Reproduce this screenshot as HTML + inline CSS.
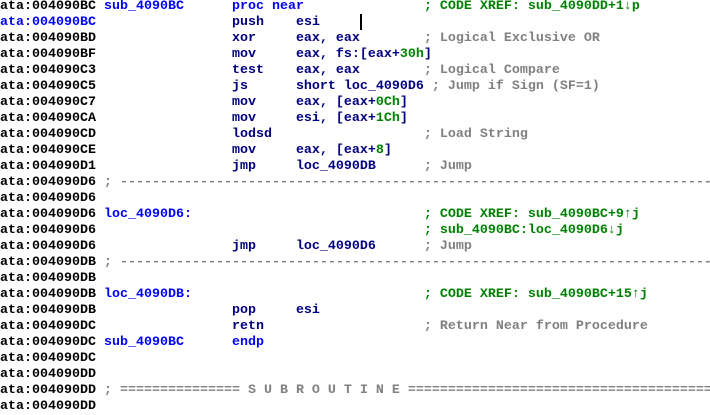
<!DOCTYPE html>
<html><head><meta charset="utf-8"><style>
html,body{margin:0;padding:0;background:#fff;width:710px;height:409px;overflow:hidden}
pre{margin:0;position:absolute;left:0;top:-1px;font-family:"Liberation Mono",monospace;font-weight:bold;font-size:13.33px;line-height:16px;color:#000;white-space:pre}
.n{color:#0000ff}.i{color:#000080}.c{color:#008000}.g{color:#808080}.d{color:#008000}
#cur{position:absolute;left:360px;top:14px;width:2px;height:16px;background:#000}
</style></head><body>
<pre>ata:004090BC <span class="n">sub_4090BC</span>      <span class="n">proc near</span>               <span class="c">; CODE XREF: sub_4090DD+1↓p</span>
<span class="n">ata:004090BC</span>                 <span class="i">push    esi</span>
ata:004090BD                 <span class="i">xor     eax, eax</span>        <span class="g">; Logical Exclusive OR</span>
ata:004090BF                 <span class="i">mov     eax, fs:[eax+<span class="d">30h</span>]</span>
ata:004090C3                 <span class="i">test    eax, eax</span>        <span class="g">; Logical Compare</span>
ata:004090C5                 <span class="i">js      short loc_4090D6</span> <span class="g">; Jump if Sign (SF=1)</span>
ata:004090C7                 <span class="i">mov     eax, [eax+<span class="d">0Ch</span>]</span>
ata:004090CA                 <span class="i">mov     esi, [eax+<span class="d">1Ch</span>]</span>
ata:004090CD                 <span class="i">lodsd</span>                   <span class="g">; Load String</span>
ata:004090CE                 <span class="i">mov     eax, [eax+<span class="d">8</span>]</span>
ata:004090D1                 <span class="i">jmp     loc_4090DB</span>      <span class="g">; Jump</span>
ata:004090D6 <span class="g">; ---------------------------------------------------------------------------</span>
ata:004090D6
ata:004090D6 <span class="n">loc_4090D6:</span>                             <span class="c">; CODE XREF: sub_4090BC+9↑j</span>
ata:004090D6                                         <span class="c">; sub_4090BC:loc_4090D6↓j</span>
ata:004090D6                 <span class="i">jmp     loc_4090D6</span>      <span class="g">; Jump</span>
ata:004090DB <span class="g">; ---------------------------------------------------------------------------</span>
ata:004090DB
ata:004090DB <span class="n">loc_4090DB:</span>                             <span class="c">; CODE XREF: sub_4090BC+15↑j</span>
ata:004090DB                 <span class="i">pop     esi</span>
ata:004090DC                 <span class="i">retn</span>                    <span class="g">; Return Near from Procedure</span>
ata:004090DC <span class="n">sub_4090BC</span>      <span class="n">endp</span>
ata:004090DC
ata:004090DD
ata:004090DD <span class="g">; =============== S U B R O U T I N E =======================================</span>
ata:004090DD</pre>
<div id="cur"></div>
</body></html>
